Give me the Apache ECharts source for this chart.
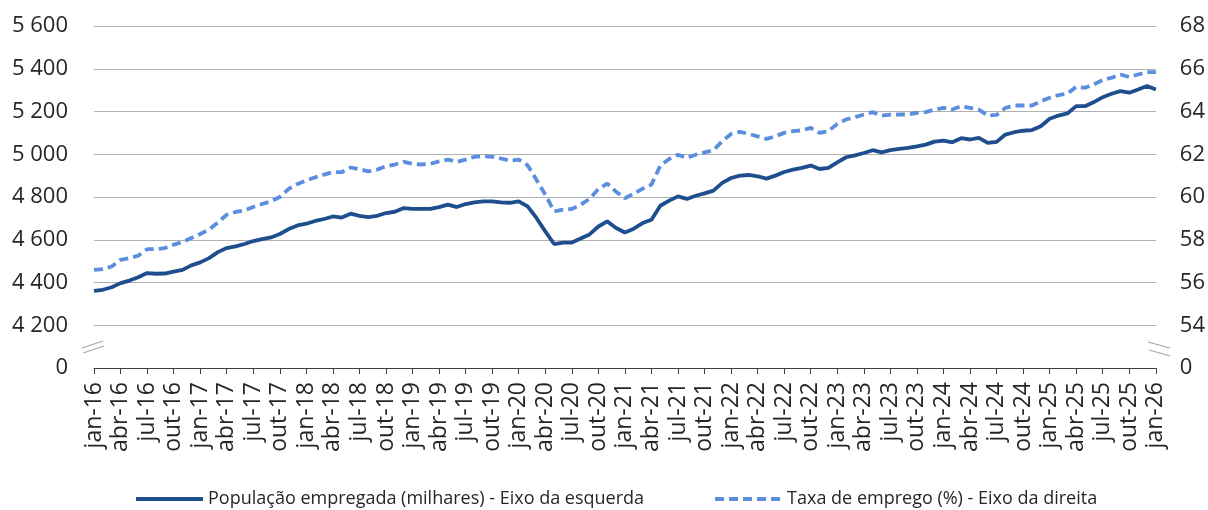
<!DOCTYPE html>
<html>
<head>
<meta charset="utf-8">
<script src="https://cdn.jsdelivr.net/npm/echarts@6/dist/echarts.min.js"></script>
<style>
  html, body { margin: 0; padding: 0; background: #fff; }
  #container { width: 1208px; height: 510px; }
</style>
</head>
<body>
<div id="container"></div>
<script type="text/javascript">
// month names (pt) used for the category labels jan-16 .. jan-26
var monthNames = ['jan','fev','mar','abr','mai','jun','jul','ago','set','out','nov','dez'];
var months = [];
for (var y = 16; y <= 26; y++) {
    for (var m = 0; m < 12; m++) {
        if (y == 26 && m > 0) break;
        months.push(monthNames[m] + '-' + y);
    }
}

// População empregada (milhares) - left axis
var empregada = [
    4361, 4366, 4378, 4397, 4409, 4425, 4444, 4441, 4442, 4451, 4459, 4480,
    4494, 4514, 4542, 4561, 4569, 4580, 4594, 4603, 4611, 4627, 4650, 4667,
    4675, 4688, 4697, 4709, 4704, 4722, 4712, 4706, 4712, 4725, 4731, 4748,
    4744, 4744, 4744, 4753, 4764, 4753, 4767, 4775, 4780, 4780, 4775, 4773,
    4780, 4756, 4702, 4639, 4580, 4587, 4587, 4606, 4625, 4662, 4686, 4655,
    4634, 4652, 4678, 4694, 4759, 4783, 4803, 4791, 4806, 4817, 4830, 4866,
    4889, 4900, 4903, 4897, 4886, 4900, 4917, 4928, 4936, 4947, 4931, 4936,
    4962, 4986, 4995, 5006, 5019, 5009, 5019, 5025, 5030, 5037, 5045, 5059,
    5064, 5056, 5075, 5069, 5077, 5053, 5058, 5092, 5103, 5110, 5113, 5131,
    5166, 5181, 5191, 5225, 5225, 5244, 5267, 5283, 5295, 5288, 5303, 5319,
    5303
];

// Taxa de emprego (%) - right axis
var taxa = [
    56.59, 56.63, 56.75, 57.06, 57.14, 57.25, 57.56, 57.56, 57.61, 57.77, 57.89, 58.08,
    58.27, 58.47, 58.81, 59.17, 59.30, 59.37, 59.53, 59.67, 59.80, 60.00, 60.38, 60.61,
    60.77, 60.92, 61.05, 61.17, 61.16, 61.38, 61.30, 61.20, 61.28, 61.44, 61.52, 61.64,
    61.56, 61.52, 61.55, 61.67, 61.75, 61.64, 61.75, 61.88, 61.91, 61.88, 61.80, 61.70,
    61.75, 61.48, 60.81, 60.11, 59.33, 59.41, 59.44, 59.64, 59.91, 60.38, 60.63, 60.25,
    59.94, 60.16, 60.39, 60.58, 61.47, 61.78, 61.98, 61.83, 61.98, 62.09, 62.19, 62.61,
    62.95, 63.05, 62.95, 62.84, 62.72, 62.84, 63.00, 63.08, 63.12, 63.23, 63.00, 63.08,
    63.42, 63.63, 63.73, 63.86, 63.97, 63.81, 63.85, 63.86, 63.86, 63.94, 63.97, 64.09,
    64.17, 64.09, 64.25, 64.17, 64.09, 63.81, 63.84, 64.17, 64.28, 64.28, 64.28, 64.48,
    64.64, 64.77, 64.83, 65.16, 65.11, 65.27, 65.47, 65.58, 65.73, 65.61, 65.73, 65.84,
    65.84
];

var fontName = 'Open Sans';
var txtColor = '#262626';

function fmtLeft(v) {
    if (v == 4000) return '0';   // broken axis: bottom tick stands for 0
    var s = String(v);
    return s.slice(0, s.length - 3) + ' ' + s.slice(-3);
}
function fmtRight(v) {
    if (v == 52) return '0';
    return String(v);
}

var myChart = echarts.init(document.getElementById('container'));
var option = {
    backgroundColor: '#ffffff',
    animation: false,
    grid: { left: 94, right: 51, top: 26, bottom: 142 },
    legend: {
        left: 134,
        top: 490,
        padding: 0,
        itemWidth: 67,
        itemHeight: 10,
        itemGap: 69,
        itemStyle: { opacity: 0 },
        lineStyle: { width: 4 },
        textStyle: { fontFamily: fontName, fontSize: 18, color: txtColor },
        data: ['População empregada (milhares) - Eixo da esquerda', 'Taxa de emprego (%) - Eixo da direita']
    },
    xAxis: {
        type: 'category',
        boundaryGap: false,
        data: months,
        axisLine: { lineStyle: { color: '#404040', width: 1 } },
        axisTick: { interval: 2, length: 6, lineStyle: { color: '#404040' } },
        axisLabel: {
            interval: 2, rotate: 90, margin: 14,
            fontFamily: fontName, fontSize: 23, color: txtColor
        },
        splitLine: { show: false }
    },
    yAxis: [
        {
            type: 'value', min: 4000, max: 5600, interval: 200,
            axisLine: { show: false }, axisTick: { show: false },
            axisLabel: { formatter: fmtLeft, margin: 26, fontFamily: fontName, fontSize: 22, color: txtColor },
            splitLine: { lineStyle: { color: '#b0b0b0', width: 1 } }
        },
        {
            type: 'value', min: 52, max: 68, interval: 2,
            axisLine: { show: false }, axisTick: { show: false },
            axisLabel: { formatter: fmtRight, margin: 24, fontFamily: fontName, fontSize: 22, color: txtColor },
            splitLine: { show: false }
        }
    ],
    series: [
        {
            name: 'População empregada (milhares) - Eixo da esquerda',
            type: 'line',
            yAxisIndex: 0,
            symbol: 'none',
            data: empregada,
            lineStyle: { color: '#1f4e8f', width: 3.8 },
            itemStyle: { color: '#1f4e8f' },
            z: 3
        },
        {
            name: 'Taxa de emprego (%) - Eixo da direita',
            type: 'line',
            yAxisIndex: 1,
            symbol: 'none',
            data: taxa,
            lineStyle: { color: '#5b8ede', width: 3.8, type: [9, 5] },
            itemStyle: { color: '#5b8ede' },
            z: 2
        }
    ],
    // axis-break marks
    graphic: [
        { type: 'line', shape: { x1: 82, y1: 348, x2: 103, y2: 341 }, style: { stroke: '#a6a6a6', lineWidth: 1.2 } },
        { type: 'line', shape: { x1: 83, y1: 353, x2: 104, y2: 346 }, style: { stroke: '#a6a6a6', lineWidth: 1.2 } },
        { type: 'line', shape: { x1: 1148, y1: 342, x2: 1170, y2: 348 }, style: { stroke: '#a6a6a6', lineWidth: 1.2 } },
        { type: 'line', shape: { x1: 1149, y1: 350, x2: 1170, y2: 356 }, style: { stroke: '#a6a6a6', lineWidth: 1.2 } }
    ]
};

if (option && typeof option === "object") {
    myChart.setOption(option, true);
}
</script>
</body>
</html>
